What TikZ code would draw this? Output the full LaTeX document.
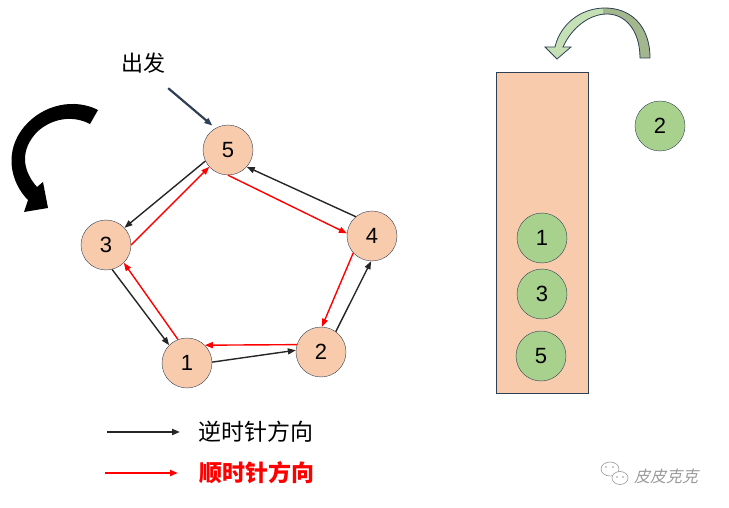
\documentclass[tikz,border=0pt]{standalone}
\usepackage{fontspec}
\setmainfont{Liberation Sans}
\newfontfamily\cjk{Noto Sans CJK SC}
\newfontfamily\cjkslant[FakeSlant=0.25]{Noto Sans CJK SC}
\usetikzlibrary{arrows.meta}
\definecolor{peach}{HTML}{F8CBAD}
\definecolor{leaf}{HTML}{A9D18E}
\definecolor{paleleaf}{HTML}{C5E0B4}
\definecolor{darkleaf}{HTML}{A2B78E}
\definecolor{rim}{HTML}{2F3F55}
\definecolor{ink}{HTML}{262626}
\definecolor{wmgray}{HTML}{9A9A9A}

\begin{document}
\begin{tikzpicture}[x=1pt,y=-1pt,inner sep=0pt,minimum size=50pt,
  >={Triangle[length=8pt,width=6pt]},
  peachball/.style={circle,draw=rim,fill=peach,font=\fontsize{22}{24}\selectfont},
  greenball/.style={circle,draw=rim,fill=leaf,font=\fontsize{22}{24}\selectfont},
  ccw/.style={->,ink,line width=1.4pt},
  cw/.style={->,red,line width=1.4pt},
  greenarc/.style={insert path={(650,58) .. controls (650,25) and (630,8) .. (605,8)
    .. controls (580,8) and (560,25) .. (555,47) -- (545,47) -- (557,59) -- (571,47) -- (563,47)
    .. controls (572,27) and (590,14) .. (607,14) .. controls (625,14) and (640,30) .. (640,58) -- cycle}}]
\useasboundingbox (0,0) rectangle (729,508);

%Node Coordinates
\node at (187,363) [peachball] (Node1) {1};
\node at (321,352) [peachball] (Node2) {2};
\node at (106,245) [peachball] (Node3) {3};
\node at (372,236) [peachball] (Node4) {4};
\node at (228,150) [peachball] (Node5) {5};

%Start Label
\node at (143,63) [font=\cjk\fontsize{22}{24}\selectfont] (Start) {出发};
\draw [->,rim,line width=2.2pt,shorten >=4pt] (Start.south east) -- (Node5.120);

%Counterclockwise
\draw [ccw] (Node5.206) -- (Node3.43);
\draw [ccw] (Node3.284) -- (Node1.135);
\draw [ccw] (Node1.2) -- (Node2.176);
\draw [ccw] (Node2.54) -- (Node4.268);
\draw [ccw] (Node4.130) -- (Node5.318);
%Clockwise
\draw [cw] (Node5.270) -- (Node4.174);
\draw [cw] (Node4.222) -- (Node2.88);
\draw [cw] (Node2.163) -- (Node1.45);
\draw [cw] (Node1.111) -- (Node3.315);
\draw [cw] (Node3.0) -- (Node5.222);

%Black Turn Arrow
\fill [black] (98,110) .. controls (75,98) and (43,104) .. (24,127)
  .. controls (4,151) and (10,182) .. (28,200) -- (24,212) -- (48,208) -- (43,182) -- (37,187)
  .. controls (22,170) and (20,150) .. (37,132) .. controls (52,118) and (73,115) .. (90,124) -- cycle;

%Stack
\draw [rim,fill=peach] (496,72) rectangle (588,393);
\node at (542,238) [greenball] (Ball1) {1};
\node at (542,294) [greenball] (Ball3) {3};
\node at (541,356) [greenball] (Ball5) {5};
\node at (660,126) [greenball] (Ball2) {2};

%Green Turn Arrow
\fill [paleleaf,greenarc];
\begin{scope}
\clip (603,0) rectangle (700,70);
\fill [darkleaf,greenarc];
\end{scope}
\draw [rim,line width=0.8pt,greenarc];

%Legend
\coordinate (LegCcw) at (107,432);
\coordinate (LegCw) at (105,473);
\node at (198,432) [anchor=west,font=\cjk\fontsize{23}{26}\selectfont] (CcwText) {逆时针方向};
\node at (199,473) [anchor=west,red,font=\cjk\bfseries\fontsize{23}{26}\selectfont] (CwText) {顺时针方向};
\draw [->,ink,line width=2.6pt,shorten >=18pt] (LegCcw) -- (CcwText.west);
\draw [->,red,line width=2.6pt,shorten >=21pt] (LegCw) -- (CwText.west);

%Watermark
\draw [wmgray,line width=0.6pt] (610,469) ellipse [x radius=9pt,y radius=7pt];
\draw [wmgray,line width=0.6pt,fill=white] (620,478) ellipse [x radius=8pt,y radius=6.5pt];
\fill [wmgray] (606,467) circle (0.9pt) (613,467) circle (0.9pt) (617,477) circle (0.8pt) (623,477) circle (0.8pt);
\node at (666,476) [wmgray,font=\cjkslant\fontsize{16}{18}\selectfont] (Mark) {皮皮克克};
\end{tikzpicture}
\end{document}
